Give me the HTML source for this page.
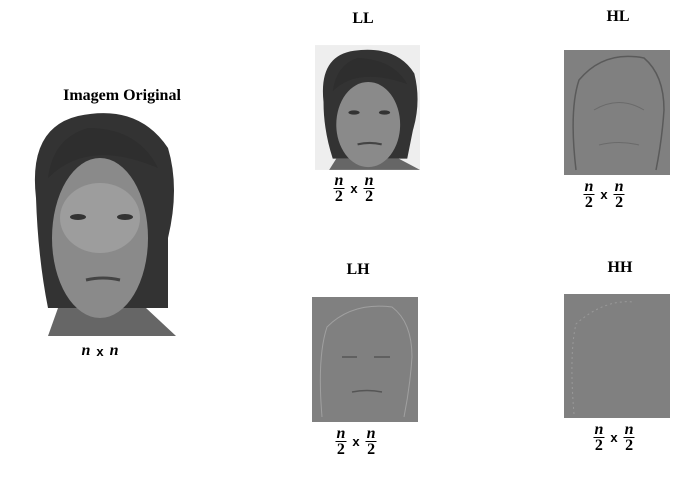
<!DOCTYPE html>
<html><head><meta charset="utf-8"><style>
body{margin:0;width:682px;height:479px;background:#fff;position:relative;overflow:hidden;font-family:"Liberation Serif",serif}
.t{position:absolute;font-weight:bold;font-size:16px;transform:translateX(-50%);white-space:nowrap}
.lab{position:absolute;transform:translateX(-50%);font-family:"Liberation Serif",serif;font-weight:bold;font-style:italic;font-size:16px;display:flex;align-items:center;gap:6px}
.fr{display:flex;flex-direction:column;align-items:center;line-height:15px}
.fr span:first-child{border-bottom:1.5px solid #000;padding:0 1px}
.fr span:last-child{font-style:normal}
.x{font-style:normal;font-family:"Liberation Sans",sans-serif;font-size:13px}
.box{position:absolute}
</style></head><body>
<div class="t" style="left:122px;top:87px">Imagem Original</div>
<svg class="box" style="left:28px;top:108px" width="148" height="228" viewBox="0 0 148 228">
<path d="M20 228 L30 200 L118 200 L148 228Z" fill="#666"/>
<path d="M8 90 Q0 20 50 8 Q110 -5 140 40 Q152 80 140 130 L140 200 L20 200 Q10 150 8 90Z" fill="#333"/>
<ellipse cx="72" cy="130" rx="48" ry="80" fill="#8a8a8a"/>
<ellipse cx="72" cy="110" rx="40" ry="35" fill="#9d9d9d"/>
<path d="M20 70 Q60 30 130 60 Q110 20 60 20 Q25 30 20 70Z" fill="#2e2e2e"/>
<ellipse cx="50" cy="109" rx="8" ry="3" fill="#333"/><ellipse cx="97" cy="109" rx="8" ry="3" fill="#333"/>
<path d="M58 172 Q75 168 92 172" stroke="#444" stroke-width="3" fill="none"/>
</svg>
<div class="lab" style="left:100px;top:342px"><span>n</span><span class="x">x</span><span>n</span></div>

<div class="t" style="left:363px;top:10px">LL</div>
<svg class="box" style="left:315px;top:45px" width="105" height="125" viewBox="0 0 148 176">
<rect width="148" height="176" fill="#eee"/>
<path d="M20 176 L30 160 L118 160 L148 176Z" fill="#666"/>
<path d="M12 80 Q5 15 55 8 Q115 0 140 40 Q150 80 138 120 L130 160 L25 160 Q12 120 12 80Z" fill="#333"/>
<ellipse cx="75" cy="112" rx="45" ry="60" fill="#8a8a8a"/>
<path d="M25 65 Q60 30 130 55 Q110 20 60 18 Q30 28 25 65Z" fill="#2e2e2e"/>
<ellipse cx="55" cy="95" rx="8" ry="3" fill="#333"/><ellipse cx="98" cy="95" rx="8" ry="3" fill="#333"/>
<path d="M60 140 Q77 136 94 140" stroke="#444" stroke-width="3" fill="none"/>
</svg>
<div class="lab" style="left:354px;top:173px"><div class="fr"><span>n</span><span>2</span></div><span class="x">x</span><div class="fr"><span>n</span><span>2</span></div></div>

<div class="t" style="left:618px;top:8px">HL</div>
<svg class="box" style="left:564px;top:50px" width="106" height="125" viewBox="0 0 106 125">
<rect width="106" height="125" fill="#808080"/>
<path d="M12 120 Q5 60 15 30 Q40 0 80 8 Q100 25 100 60 Q98 90 92 120" stroke="#5a5a5a" stroke-width="1.5" fill="none"/>
<path d="M30 60 Q55 45 80 60 M35 95 Q55 90 75 95" stroke="#6a6a6a" stroke-width="1" fill="none"/>
</svg>
<div class="lab" style="left:604px;top:179px"><div class="fr"><span>n</span><span>2</span></div><span class="x">x</span><div class="fr"><span>n</span><span>2</span></div></div>

<div class="t" style="left:358px;top:261px">LH</div>
<svg class="box" style="left:312px;top:297px" width="106" height="125" viewBox="0 0 106 125">
<rect width="106" height="125" fill="#808080"/>
<path d="M10 120 Q5 60 15 30 Q40 5 80 10 Q100 25 100 60 Q98 90 92 120" stroke="#a0a0a0" stroke-width="1" fill="none"/>
<path d="M30 60 L45 60 M62 60 L78 60 M40 95 Q55 92 70 95" stroke="#555" stroke-width="1.5" fill="none"/>
</svg>
<div class="lab" style="left:356px;top:426px"><div class="fr"><span>n</span><span>2</span></div><span class="x">x</span><div class="fr"><span>n</span><span>2</span></div></div>

<div class="t" style="left:620px;top:259px">HH</div>
<svg class="box" style="left:564px;top:294px" width="106" height="124" viewBox="0 0 106 124">
<rect width="106" height="124" fill="#808080"/>
<path d="M10 120 Q5 60 12 30 Q40 5 70 8" stroke="#999" stroke-width="1" stroke-dasharray="2 3" fill="none"/>
</svg>
<div class="lab" style="left:614px;top:422px"><div class="fr"><span>n</span><span>2</span></div><span class="x">x</span><div class="fr"><span>n</span><span>2</span></div></div>
</body></html>
